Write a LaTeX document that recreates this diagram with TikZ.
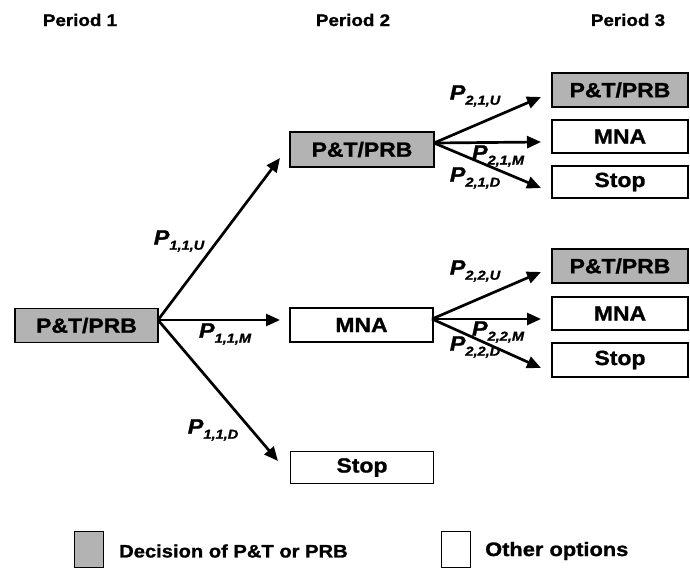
\documentclass[tikz,border=0pt]{standalone}
\usepackage{fontspec}
\setmainfont{Liberation Sans}[FakeStretch=1.12,
  BoldFeatures={FakeBold=1.2}, BoldItalicFeatures={FakeBold=1.2}]
\usetikzlibrary{arrows.meta}
\definecolor{boxgray}{RGB}{179,179,179}
% probability label: bold italic P with a lowered subscript
\newcommand{\plab}[1]{\fontsize{21}{24}\selectfont\bfseries\itshape P\raisebox{-5pt}{\fontsize{13}{15}\selectfont #1}}

\begin{document}
\begin{tikzpicture}[x=1pt,y=-1pt,
  stbox/.style={draw=black, line width=1.4pt, minimum width=143pt, minimum height=34pt,
    inner sep=0pt, font=\fontsize{20.5}{24}\selectfont\bfseries},
  decbox/.style={stbox, fill=boxgray},
  optbox/.style={stbox, fill=white},
  pbox/.style={stbox, minimum width=136pt},
  arr/.style={line width=2.7pt, -{Triangle[length=14pt,width=12pt]}},
  period/.style={font=\fontsize{16.8}{20}\selectfont\bfseries},
  plabel/.style={inner sep=0pt},
  legtext/.style={anchor=west, inner sep=0pt, font=\fontsize{18}{22}\selectfont\bfseries}
]
\useasboundingbox (0,0) rectangle (690,567);

% period headings
\node[period] (h1) at (80,20) {Period 1};
\node[period] (h2) at (353,20) {Period 2};
\node[period] (h3) at (628,20) {Period 3};

% period 1
\node[decbox] (b1) at (86.5,325.5) {P\&T/PRB};

% period 2
\node[decbox, minimum width=144pt, minimum height=35pt] (b2u) at (362,149.5) {P\&T/PRB};
\node[optbox] (b2m) at (361.5,325) {MNA};
\node[optbox, minimum height=32pt] (b2d) at (362,467.5) {Stop};

% period 3, after P&T/PRB
\node[decbox, pbox] (b3uu) at (620,90) {P\&T/PRB};
\node[optbox, pbox, minimum height=33pt] (b3um) at (620,136.5) {MNA};
\node[optbox, pbox, minimum height=32pt] (b3ud) at (620,182) {Stop};

% period 3, after MNA
\node[decbox, pbox] (b3mu) at (620,266) {P\&T/PRB};
\node[optbox, pbox, minimum height=33pt] (b3mm) at (620,313.5) {MNA};
\node[optbox, pbox] (b3md) at (620,360) {Stop};

% branch origins and arrow tips
\coordinate (o1) at (158,320);
\coordinate (t1u) at (280,158);
\coordinate (t1m) at (280,320);
\coordinate (t1d) at (278,461);
\coordinate (o2u) at (434,143);
\coordinate (t2uu) at (541,97);
\coordinate (t2um) at (541,142);
\coordinate (t2ud) at (541,188);
\coordinate (o2m) at (432,319);
\coordinate (t2mu) at (541,272);
\coordinate (t2mm) at (541,319);
\coordinate (t2md) at (541,368);

\draw[arr] (o1) -- (t1u);
\draw[arr] (o1) -- (t1m);
\draw[arr] (o1) -- (t1d);
\draw[arr] (o2u) -- (t2uu);
\draw[arr] (o2u) -- (t2um);
\draw[arr] (o2u) -- (t2ud);
\draw[arr] (o2m) -- (t2mu);
\draw[arr] (o2m) -- (t2mm);
\draw[arr] (o2m) -- (t2md);

% transition probabilities
\node[plabel] (p11u) at (179,241) {\plab{1,1,U}};
\node[plabel] (p11m) at (225,334) {\plab{1,1,M}};
\node[plabel] (p11d) at (213,430) {\plab{1,1,D}};
\node[plabel] (p21u) at (475,96) {\plab{2,1,U}};
\node[plabel] (p21m) at (498,156) {\plab{2,1,M}};
\node[plabel] (p21d) at (475,178) {\plab{2,1,D}};
\node[plabel] (p22u) at (475,271) {\plab{2,2,U}};
\node[plabel] (p22m) at (498,332) {\plab{2,2,M}};
\node[plabel] (p22d) at (475,347) {\plab{2,2,D}};

% legend
\node[draw=black, line width=1.4pt, fill=boxgray, minimum width=29pt, minimum height=36pt,
  inner sep=0pt, anchor=north west] (lg1) at (74,531) {};
\node[legtext] (lt1) at (119,551) {Decision of P\&T or PRB};
\node[draw=black, line width=1.4pt, fill=white, minimum width=29pt, minimum height=36pt,
  inner sep=0pt, anchor=north west] (lg2) at (441,531) {};
\node[legtext, font=\fontsize{19.5}{22}\selectfont\bfseries] (lt2) at (485,551) {Other options};
\end{tikzpicture}
\end{document}
